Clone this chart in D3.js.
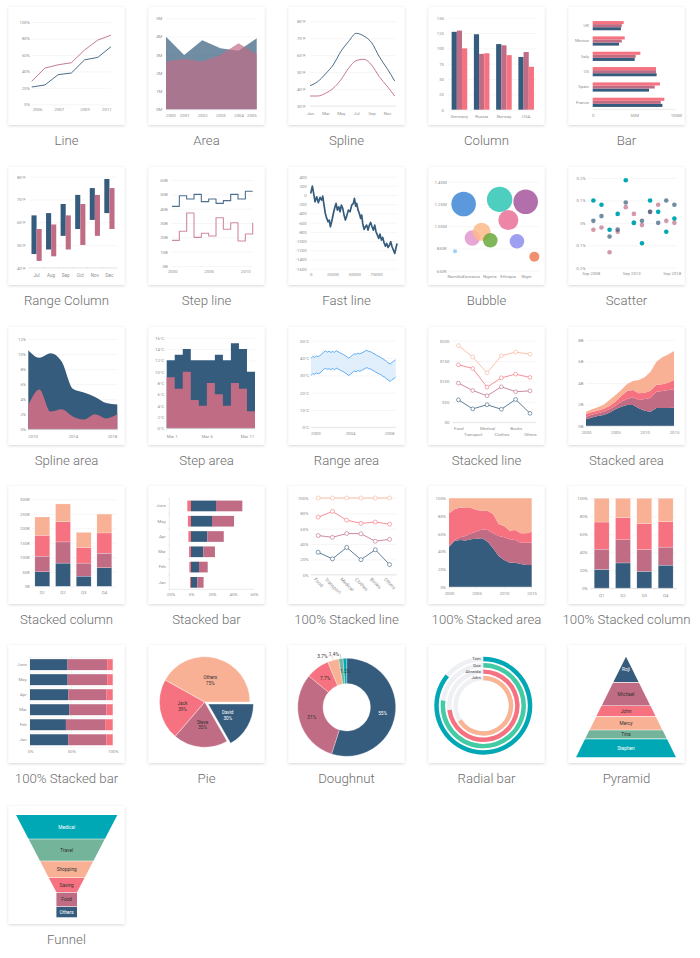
<!DOCTYPE html>
<html><head><meta charset="utf-8">
<script src="https://cdn.jsdelivr.net/npm/d3@7"></script>
<style>html,body{margin:0;padding:0;background:#fff;}svg{display:block;}</style>
</head><body>
<script>
// ================= DATA =================
const chartTitles = ['Line','Area','Spline','Column','Bar','Range Column','Step line','Fast line','Bubble','Scatter',
  'Spline area','Step area','Range area','Stacked line','Stacked area','Stacked column','Stacked bar','100% Stacked line',
  '100% Stacked area','100% Stacked column','100% Stacked bar','Pie','Doughnut','Radial bar','Pyramid','Funnel'];

// Line
const lineBlue = [21, 23.5, 36, 38, 54, 57, 70];
const linePink = [28, 44, 48, 50.5, 66, 78, 84];
const lineYTicks = [0, 20, 40, 60, 80, 100];
const lineXTickPos = [0.4, 2.05, 4, 5.65];
const lineXLabels = ['2006', '2007', '2009', '2011'];
// Area
const areaYears = [2000, 2001, 2002, 2003, 2004, 2005];
const areaBlue = [3.99, 2.98, 3.8, 3.35, 3.22, 3.9];
const areaPink = [2.62, 2.77, 2.62, 2.98, 3.63, 3.02];
const areaYTicks = [0, 1, 2, 3, 4, 5];
// Spline
const months = ['Jan','Feb','Mar','Apr','May','Jun','Jul','Aug','Sep','Oct','Nov','Dec'];
const splineBlue = [42, 44.4, 48.9, 54.2, 62.1, 68, 72.9, 71.3, 67.4, 59.1, 52.2, 44.8];
const splinePink = [35.9, 35.9, 37.5, 40.4, 45.4, 52.2, 56.8, 57.6, 54.2, 47.3, 41.8, 35.9];
const splineYTicks = [30, 40, 50, 60, 70, 80];
// Column
const colCountries = ['Germany', 'Russia', 'Norway', 'USA'];
const colBlue = [127, 123, 107, 86];
const colMauve = [129, 91, 105, 94];
const colPink = [100, 92, 89, 70];
const colYTicks = [0, 25, 50, 75, 100, 125, 150];
// Bar
const barCountries = ['UK', 'Mexico', 'Italy', 'US', 'Spain', 'France'];
const barBlue = [34, 31.7, 50.6, 77, 67.9, 84];
const barMauve = [35, 35, 51.8, 76.3, 74.7, 82];
const barPink = [37.3, 38.6, 57.4, 76.3, 81, 86.3];
const barXTicks = [0, 50, 100];
// Range column
const rcMonths = ['Jul', 'Aug', 'Sep', 'Oct', 'Nov', 'Dec'];
const rcBlueLow = [46, 48, 54, 57, 61, 64];
const rcBlueHigh = [63, 64, 68, 72, 75, 79];
const rcPinkLow = [43, 45, 48, 50, 54, 57];
const rcPinkHigh = [57, 59, 63, 68, 72, 75];
const rcYTicks = [40, 50, 60, 70, 80];
// Step line
const stepYears = [2000, 2001, 2002, 2003, 2004, 2005, 2006, 2007, 2008, 2009, 2010, 2011];
const stepBlue = [41.6, 49, 46.7, 50, 44.9, 46.7, 43.7, 45.6, 50, 46.7, 52.1, 52.1];
const stepPink = [17.9, 24.2, 37, 20, 22.8, 20.9, 33.7, 25.6, 30.2, 17.4, 22.3, 30.2];
const stepYTicks = [0, 10, 20, 30, 40, 50, 60];
const stepXTicks = [2000, 2005, 2010];
// Fast line
const fastX = [0,1900,3400,5000,6900,8800,10700,12600,13800,15300,16800,18400,19900,21400,22600,24100,26000,27900,29100,30600,32200,33700,35200,36800,38300,39800,41300,43300,45200,47100,49000,50200,51700,52800,54400,55900,57400,58600,59700,61300,62800,64300,65800,67400,68900,70400,72000,73500,75000,76600,78100,79600,81200,82700,84200,85800,87300,88800,90400,91900,93400,95000,96500,98000,99200];
const fastY = [36,196,36,-145,-36,-167,-50,-109,-22,-217,-400,-507,-580,-543,-688,-580,-400,-254,-181,-326,-254,-362,-217,-290,-435,-543,-457,-326,-362,-217,-181,-72,-239,-181,-326,-400,-507,-435,-616,-746,-688,-652,-761,-652,-594,-688,-761,-652,-797,-870,-942,-848,-978,-920,-1036,-1109,-1051,-1138,-1087,-1014,-1123,-1196,-1268,-1138,-1051];
const fastYTicks = [-1600, -1400, -1200, -1000, -800, -600, -400, -200, 0, 200, 400];
const fastXTicks = [0, 25000, 50000, 75000];
// Bubble
const bubbleCountries = ['Namibia', 'Tanzania', 'Nigeria', 'Ethiopia', 'Niger'];
const bubbleLabelPos = [7.4, 24.6, 45.2, 65.4, 85.7];
const bubbleX = [16.9, 56.6, 85.3, 66.2, 26.5, 36.8, 46.3, 75.7, 7.4, 94.9];
const bubbleY = [1.249, 1.291, 1.27, 1.105, 0.944, 1.0, 0.923, 0.914, 0.824, 0.776];
const bubbleSize = [151, 161, 151, 100, 59, 81, 53, 53, 4, 25];
const bubbleColors = ['#3f87d6', '#2ec5b3', '#a4569c', '#ea7098', '#e297cf', '#fdb98a', '#69a93c', '#8e8ef0', '#8fc4f6', '#ef7d55'];
const bubbleYTicks = [0.65, 0.85, 1.05, 1.25, 1.45];
const bubbleYLabels = ['650K', '850K', '1.05M', '1.25M', '1.45M'];
// Scatter
const scatterYears = [2009, 2010, 2011, 2012, 2013, 2014, 2015, 2016, 2017, 2018, 2019];
const scTeal = [0.1, 0.081, -0.031, 0.04, 0.19, 0, -0.091, 0.1, 0.049, -0.04, 0.019];
const scSlate = [0.009, 0.03, -0.061, -0.03, 0.091, 0, 0.009, 0.049, 0, 0.1, 0.081];
const scPinkS = [-0.031, -0.021, -0.131, -0.04, 0.07, 0.04, -0.01, 0.049, 0.081, 0.009, 0];
const scatYTicks = [-0.2, -0.1, 0, 0.1, 0.2];
const scatXTickPos = [2008.67, 2013.67, 2018.67];
const scatXLabels = ['Sep 2008', 'Sep 2013', 'Sep 2018'];
// Spline area
const saYears = [2010, 2011, 2012, 2013, 2014, 2015, 2016, 2017, 2018];
const saBlue = [10.5, 9.5, 10.1, 9.0, 5.4, 4.9, 4.3, 3.5, 3.3];
const saPink = [3.2, 5.3, 2.35, 2.65, 1.7, 1.3, 2.0, 1.45, 2.0];
const saYTicks = [0, 2, 4, 6, 8, 10, 12];
const saXTicks = [2010, 2014, 2018];
// Step area
const staDays = [1, 2, 3, 4, 5, 6, 7, 8, 9, 10, 11, 12];
const staBlue = [12, 13, 14, 12, 12, 12, 13, 12, 15, 14, 10, 10];
const staPink = [9, 7, 10, 5, 4, 8, 6, 4, 8, 7, 3, 3];
const staYTicks = [0, 2, 4, 6, 8, 10, 12, 14, 16];
const staXTicks = [1, 6, 11];
// Range area
const raHigh = [39.8,40.9,40.4,41.2,40.8,41.5,42.3,43.4,44.1,43.4,43.9,43.2,43.8,43.3,44.2,43.6,43.0,42.6,42.0,41.4,40.6,39.9,40.8,41.6,42.5,42.1,42.8,42.4,42.9,43.3,44.0,44.4,43.9,43.6,43.1,42.4,41.9,41.2,40.8,40.1,39.5,38.8,38.0,37.1,36.6,37.5,38.2,39.0];
const raLow = [29.9,31.0,30.6,31.3,30.9,31.4,32.4,33.5,34.0,33.5,33.8,33.3,33.9,33.2,34.1,33.7,33.1,32.5,32.1,31.3,30.7,29.8,30.9,31.5,32.6,32.0,32.9,32.3,32.8,33.4,33.9,34.5,33.8,33.7,33.0,32.5,31.8,31.3,30.7,30.2,29.4,28.9,27.9,27.2,26.5,27.6,28.1,29.1];
const raRange = [2000, 2008.68];
const raYTicks = [0, 10, 20, 30, 40, 50];
const raXTicks = [2000, 2004, 2008];
// Stacked line / 100% stacked line
const slCats = ['Food', 'Transport', 'Medical', 'Clothes', 'Books', 'Others'];
const slBlue = [55, 33, 43, 32, 56, 22];
const slMauve = [41, 45, 22, 55, 19, 55];
const slPink = [45, 54, 21, 22, 43, 33];
const slPeach = [47, 28, 35, 54, 54, 57];
const slYTicks = [0, 50, 100, 150, 200];
// Stacked area
const stYears = [2000,2001,2002,2003,2004,2005,2006,2007,2008,2009,2010,2011,2012,2013,2014,2015];
const stBlue = [0.62,0.8,0.93,1.02,1.24,1.55,1.8,1.95,1.95,1.64,1.43,1.33,1.67,1.67,1.67,1.7];
const stMauve = [0.25,0.25,0.25,0.31,0.31,0.31,0.46,0.56,0.72,0.78,1.08,1.27,1.52,1.59,1.68,1.71];
const stPink = [0.25,0.25,0.25,0.28,0.31,0.4,0.53,0.75,0.68,0.62,0.59,0.69,0.65,0.62,0.68,0.87];
const stPeach = [0.21,0.25,0.31,0.37,0.56,0.59,0.56,0.65,0.84,1.24,1.43,1.76,2.14,2.51,2.61,2.7];
const stYTicks = [0, 2, 4, 6, 8];
const stXTicks = [2000, 2005, 2010, 2015];
// Stacked column / 100% stacked column
const quarters = ['Q1', 'Q2', 'Q3', 'Q4'];
const scBlue = [50, 80, 35, 64];
const scMauve = [54, 73, 45, 50];
const scPink = [72, 70, 54, 70];
const scPeach = [63, 61, 52, 65];
const scYTicks = [0, 50, 100, 150, 200, 250, 300];
// Stacked bar / 100% stacked bar
const sbCats = ['Jan', 'Feb', 'Mar', 'Apr', 'May', 'June'];
const sbBlue = [6, 7.6, 11.7, 15.6, 20, 23.8];
const sbMauve = [6, 8.3, 11.1, 15.6, 21, 25.1];
const sbPink = [-1, -1.6, -1.9, -2.5, -2.9, -3.5];
const sbXTicks = [-20, 0, 20, 40, 60];
// 100% stacked area
const paBlue = [45.5,51.9,53,52.3,53.8,54.5,54.9,51.1,43.6,35,30.5,27.4,27.4,25.9,24.8,24.8];
const paMauve = [0.7,1.1,3,5.2,6.7,7.9,10.1,13.2,16.9,22.5,25.5,26.4,25.6,24.1,25.2,25.2];
const paPink = [36.9,34.6,33.5,31.6,28.6,24.4,21.1,21.4,21.8,13.5,12.8,9.7,11.3,10.5,10.5,12.2];
const paPeach = [16.9,12.4,10.5,10.9,10.9,13.2,13.9,14.3,17.7,29,31.2,36.5,35.7,39.5,39.5,37.6];
const pctTicks = [0, 0.2, 0.4, 0.6, 0.8, 1];
// Pie
const pieNames = ['David', 'Steve', 'Jack', 'Others'];
const pieVals = [30, 35, 39, 75];
// Doughnut
const dnVals = [55, 31, 7.7, 3.7, 1.4, 1.2];
const dnLabelOutside = [false, false, false, true, true, false];
const dnConnectorRun = [0, 0, 0, 4, 0.8, 0];
// Radial bar
const rbNames = ['Tom', 'Doe', 'Almeida', 'John'];
const rbVals = [86, 77, 73, 66];
// Pyramid
const pyNames = ['Roji', 'Michael', 'John', 'Mercy', 'Tina', 'Stephen'];
const pyVals = [25.5, 23.2, 10.9, 13.2, 8.9, 18.2];
// Funnel
const fnNames = ['Medical', 'Travel', 'Shopping', 'Saving', 'Food', 'Others'];
const fnVals = [23.5, 21.5, 16.3, 14.3, 14, 10.4];

// ================= STYLE =================
const FONT = 'Roboto, "Noto Sans", "DejaVu Sans", sans-serif';
const C = {blue:'#355C7D', mauve:'#C06C84', pink:'#F67280', peach:'#F8B195', green:'#74B49B', teal:'#00A8B5', mint:'#43CCA4'};
const AX_FS = 4.3, AX_COL = '#8f8f8f', GRID = '#ededed', AXLINE = '#d4d4d4';

const svg = d3.select('body').append('svg').attr('width', 700).attr('height', 958).attr('font-family', FONT);
const defs = svg.append('defs');
const flt = defs.append('filter').attr('id', 'sh').attr('x', '-10%').attr('y', '-10%').attr('width', '120%').attr('height', '120%');
flt.append('feDropShadow').attr('dx', 0).attr('dy', 0.8).attr('stdDeviation', 1.6).attr('flood-color', '#000').attr('flood-opacity', 0.17);

const colX = [8.5, 148.5, 288.5, 428.5, 568.5];
const rowY = [7, 167, 327, 486, 645, 806];
chartTitles.forEach((t, i) => {
  const cx = colX[i % 5], cy = rowY[Math.floor(i / 5)];
  svg.append('rect').attr('x', cx).attr('y', cy).attr('width', 116).attr('height', 118).attr('fill', '#fff').attr('filter', 'url(#sh)');
  svg.append('text').attr('x', cx + 58).attr('y', cy + 138).attr('text-anchor', 'middle')
    .attr('font-size', 13.2).attr('font-weight', 300).attr('fill', '#6e6e6e').text(t);
});

// ================= HELPERS =================
function styleAxis(g, gridCol) {
  g.attr('font-family', FONT).attr('font-size', AX_FS);
  g.select('.domain').remove();
  g.selectAll('.tick line').attr('stroke', gridCol || GRID).attr('stroke-width', 0.5);
  g.selectAll('.tick text').attr('fill', AX_COL);
}
function yGrid(y, ticks, fmt, x0, x1, pad) {
  const g = svg.append('g').attr('transform', `translate(${x0},0)`)
    .call(d3.axisLeft(y).tickValues(ticks).tickFormat(fmt).tickSize(-(x1 - x0)).tickPadding(pad));
  styleAxis(g); return g;
}
function yCats(y, x0, pad) {
  const g = svg.append('g').attr('transform', `translate(${x0},0)`)
    .call(d3.axisLeft(y).tickSize(0).tickPadding(pad));
  styleAxis(g); return g;
}
function edgeShift(g, x0, x1) {
  g.selectAll('.tick').each(function () {
    const tr = d3.select(this).attr('transform');
    const x = +tr.match(/translate\(([-\d.e]+)/)[1];
    const txt = d3.select(this).select('text');
    const w = txt.node().getComputedTextLength();
    if (x - w / 2 < x0) txt.attr('x', x0 - (x - w / 2));
    else if (x + w / 2 > x1) txt.attr('x', x1 - (x + w / 2));
  });
}
function xLabels(x, ticks, fmt, yPos, shift) {
  const ax = d3.axisBottom(x).tickSize(0).tickPadding(0);
  if (ticks) ax.tickValues(ticks);
  if (fmt) ax.tickFormat(fmt);
  const g = svg.append('g').attr('transform', `translate(0,${yPos})`).call(ax);
  styleAxis(g);
  g.selectAll('.tick text').attr('dy', '0.35em');
  if (shift) { const r = x.range(); edgeShift(g, Math.min(r[0], r[r.length - 1]), Math.max(r[0], r[r.length - 1])); }
  return g;
}
function hLine(x0, x1, y, col, w) {
  svg.append('line').attr('x1', x0).attr('x2', x1).attr('y1', y).attr('y2', y)
    .attr('stroke', col || AXLINE).attr('stroke-width', w || 0.5);
}
function vTicks(xs, y, len) {
  xs.forEach(x => svg.append('line').attr('x1', x).attr('x2', x).attr('y1', y).attr('y2', y + len)
    .attr('stroke', AXLINE).attr('stroke-width', 0.5));
}
function pathLine(d, col, w, op) {
  return svg.append('path').attr('d', d).attr('fill', 'none').attr('stroke', col)
    .attr('stroke-width', w || 1).attr('stroke-opacity', op == null ? 1 : op).attr('stroke-linejoin', 'round');
}
const pctFmt = d => Math.round(d * 100) + '%';

// ================= 1 LINE =================
{
  const x = d3.scaleLinear().domain([0, lineBlue.length - 1]).range([31.7, 111]);
  const y = d3.scaleLinear().domain([0, 100]).range([104.3, 22]);
  yGrid(y, lineYTicks, d => d + '%', 31.7, 111, 1.8);
  xLabels(x, lineXTickPos, (d, i) => lineXLabels[i], 109.8);
  const ln = d3.line().x((d, i) => x(i)).y(d => y(d));
  pathLine(ln(lineBlue), C.blue, 0.9);
  pathLine(ln(linePink), C.mauve, 0.9);
}
// ================= 2 AREA =================
{
  const x = d3.scaleLinear().domain([areaYears[0], areaYears[areaYears.length - 1]]).range([166, 256.7]);
  const y = d3.scaleLinear().domain([0, 5]).range([109.3, 18.3]);
  yGrid(y, areaYTicks, d => d + 'M', 166, 256.7, 3.7);
  xLabels(x, areaYears, d3.format('d'), 115.2, true);
  const ar = d3.area().x((d, i) => x(areaYears[i])).y0(y(0)).y1(d => y(d));
  svg.append('path').attr('d', ar(areaBlue)).attr('fill', C.blue).attr('fill-opacity', 0.7);
  svg.append('path').attr('d', ar(areaPink)).attr('fill', C.mauve).attr('fill-opacity', 0.7);
}
// ================= 3 SPLINE =================
{
  const x = d3.scaleLinear().domain([0, 11]).range([310, 394.7]);
  const y = d3.scaleLinear().domain([30, 80]).range([106, 21.3]);
  yGrid(y, splineYTicks, d => d + '°F', 310, 395.7, 4.3);
  hLine(310, 395.7, 106);
  xLabels(x, [0, 2, 4, 6, 8, 10], d => months[d], 113.7);
  const ln = d3.line().x((d, i) => x(i)).y(d => y(d)).curve(d3.curveMonotoneX);
  pathLine(ln(splineBlue), C.blue, 0.9);
  pathLine(ln(splinePink), C.mauve, 0.9);
}
// ================= 4 COLUMN =================
{
  const x0 = d3.scaleBand().domain(colCountries).range([448.3, 537.3]).paddingInner(0.3).paddingOuter(0.15);
  const x1 = d3.scaleBand().domain([0, 1, 2]).range([0, x0.bandwidth()]);
  const y = d3.scaleLinear().domain([0, 150]).range([109.7, 17.7]);
  yGrid(y, colYTicks, d => d, 448.3, 537.3, 4.3);
  [[colBlue, C.blue], [colMauve, C.mauve], [colPink, C.pink]].forEach(([vals, col], s) => {
    svg.append('g').selectAll('rect').data(vals).join('rect')
      .attr('x', (d, i) => x0(colCountries[i]) + x1(s)).attr('width', x1.bandwidth())
      .attr('y', d => y(d)).attr('height', d => y(0) - y(d)).attr('fill', col);
  });
  xLabels(x0, null, null, 116);
}
// ================= 5 BAR =================
{
  const x = d3.scaleLinear().domain([0, 100]).range([592.7, 675.7]);
  const y0 = d3.scaleBand().domain(barCountries).range([18, 110]).paddingInner(0.4).paddingOuter(0.2);
  const y1 = d3.scaleBand().domain([2, 1, 0]).range([0, y0.bandwidth()]);
  [[barBlue, C.blue], [barMauve, C.mauve], [barPink, C.pink]].forEach(([vals, col], s) => {
    svg.append('g').selectAll('rect').data(vals).join('rect')
      .attr('y', (d, i) => y0(barCountries[i]) + y1(s)).attr('height', y1.bandwidth())
      .attr('x', x(0)).attr('width', d => x(d) - x(0)).attr('fill', col);
  });
  hLine(592.7, 675.7, 109.3);
  yCats(y0, 592.7, 3.7);
  xLabels(x, barXTicks, d => d === 0 ? '0' : d + 'M', 115);
}
// ================= 6 RANGE COLUMN =================
{
  const x0 = d3.scaleBand().domain(rcMonths).range([29.3, 116.7]).paddingInner(0.3).paddingOuter(0.15);
  const x1 = d3.scaleBand().domain([0, 1]).range([0, x0.bandwidth()]);
  const y = d3.scaleLinear().domain([40, 80]).range([267.7, 176.7]);
  yGrid(y, rcYTicks, d => d + '°F', 29.3, 116.7, 3.6);
  [[rcBlueLow, rcBlueHigh, C.blue], [rcPinkLow, rcPinkHigh, C.mauve]].forEach(([lo, hi, col], s) => {
    svg.append('g').selectAll('rect').data(lo).join('rect')
      .attr('x', (d, i) => x0(rcMonths[i]) + x1(s)).attr('width', x1.bandwidth())
      .attr('y', (d, i) => y(hi[i])).attr('height', (d, i) => y(d) - y(hi[i])).attr('fill', col);
  });
  hLine(29.3, 116.7, 267.7);
  vTicks(d3.range(rcMonths.length + 1).map(i => 29.3 + i * x0.step()), 267.7, 1.5);
  xLabels(x0, null, null, 275).attr('font-size', 4.6);
}
// ================= 7 STEP LINE =================
{
  const x = d3.scaleLinear().domain([2000, 2011]).range([172, 252.7]);
  const y = d3.scaleLinear().domain([0, 60]).range([266, 180]);
  yGrid(y, stepYTicks, d => d + 'B', 172, 252.7, 4.3);
  xLabels(x, stepXTicks, d3.format('d'), 271);
  const ln = d3.line().x((d, i) => x(stepYears[i])).y(d => y(d)).curve(d3.curveStepAfter);
  pathLine(ln(stepBlue), '#4d6f8e', 1.1);
  pathLine(ln(stepPink), '#cf8a9e', 1.1);
}
// ================= 8 FAST LINE =================
{
  const x = d3.scaleLinear().domain([0, 100000]).range([310.7, 397.8]);
  const y = d3.scaleLinear().domain([-1600, 400]).range([268.7, 176.7]);
  yGrid(y, fastYTicks, d => String(d), 310.7, 397.8, 4);
  xLabels(x, fastXTicks, d3.format('d'), 274.3);
  const ln = d3.line().x((d, i) => x(fastX[i])).y(d => y(d));
  pathLine(ln(fastY), C.blue, 1.7);
}
// ================= 9 BUBBLE =================
{
  const x = d3.scaleLinear().domain([0, 100]).range([448.3, 539]);
  const y = d3.scaleLinear().domain([0.65, 1.45]).range([270.7, 181.7]);
  const r = d3.scaleSqrt().domain([0, 161]).range([0, 12.7]);
  yGrid(y, bubbleYTicks, (d, i) => bubbleYLabels[i], 448.3, 539, 1.6);
  xLabels(x, bubbleLabelPos, (d, i) => bubbleCountries[i], 276.7);
  svg.append('g').selectAll('circle').data(bubbleX).join('circle')
    .attr('cx', d => x(d)).attr('cy', (d, i) => y(bubbleY[i])).attr('r', (d, i) => r(bubbleSize[i]))
    .attr('fill', (d, i) => bubbleColors[i]).attr('fill-opacity', 0.85);
}
// ================= 10 SCATTER =================
{
  const x = d3.scaleLinear().domain([2008.3, 2019.2]).range([587.7, 676]);
  const y = d3.scaleLinear().domain([-0.2, 0.2]).range([267.7, 178]);
  yGrid(y, scatYTicks, d => (d < 0 ? '-' : '') + (d === 0 ? '0' : Math.abs(d).toFixed(1)) + '%', 587.7, 676, 2);
  xLabels(x, scatXTickPos, (d, i) => scatXLabels[i], 273.3);
  [[scPinkS, C.mauve, 0.7], [scSlate, C.blue, 0.7], [scTeal, C.teal, 1]].forEach(([vals, col, op]) => {
    svg.append('g').selectAll('circle').data(vals).join('circle')
      .attr('cx', (d, i) => x(scatterYears[i])).attr('cy', d => y(d)).attr('r', 2.3)
      .attr('fill', col).attr('fill-opacity', op);
  });
}
// ================= 11 SPLINE AREA =================
{
  const x = d3.scaleLinear().domain([2010, 2018]).range([28.3, 117.3]);
  const y = d3.scaleLinear().domain([0, 12]).range([429.3, 339]);
  yGrid(y, saYTicks, d => d + '%', 28.3, 117.3, 2.3);
  const ar = d3.area().x((d, i) => x(saYears[i])).y0(y(0)).y1(d => y(d)).curve(d3.curveMonotoneX);
  svg.append('path').attr('d', ar(saBlue)).attr('fill', C.blue);
  svg.append('path').attr('d', ar(saPink)).attr('fill', C.mauve);
  hLine(28.3, 117.3, 429.3);
  vTicks(saXTicks.map(x), 429.3, 1.5);
  xLabels(x, saXTicks, d3.format('d'), 436.7, true);
}
// ================= 12 STEP AREA =================
{
  const x = d3.scaleLinear().domain([1, 12]).range([166.7, 255]);
  const y = d3.scaleLinear().domain([0, 16]).range([428.3, 337.7]);
  yGrid(y, staYTicks, d => d + '°C', 166.7, 255, 2.4);
  const ar = d3.area().x((d, i) => x(staDays[i])).y0(y(0)).y1(d => y(d)).curve(d3.curveStepAfter);
  svg.append('path').attr('d', ar(staBlue)).attr('fill', C.blue);
  svg.append('path').attr('d', ar(staPink)).attr('fill', C.mauve);
  hLine(166.7, 255, 428.3);
  vTicks(staXTicks.map(x), 428.3, 1.5);
  xLabels(x, staXTicks, d => 'Mar ' + d, 436, true);
}
// ================= 13 RANGE AREA =================
{
  const x = d3.scaleLinear().domain(raRange).range([311, 395.7]);
  const idx = d3.scaleLinear().domain([0, raHigh.length - 1]).range(raRange);
  const y = d3.scaleLinear().domain([0, 50]).range([427.3, 340.7]);
  yGrid(y, raYTicks, d => d + '°C', 311, 395.7, 1.7);
  hLine(311, 395.7, 427.3);
  const ar = d3.area().x((d, i) => x(idx(i))).y0((d, i) => y(raLow[i])).y1(d => y(d));
  svg.append('path').attr('d', ar(raHigh)).attr('fill', '#dcecfb').attr('fill-opacity', 0.85);
  const ln = d3.line().x((d, i) => x(idx(i))).y(d => y(d));
  pathLine(ln(raHigh), '#3d9bef', 0.8);
  pathLine(ln(raLow), '#3d9bef', 0.8);
  xLabels(x, raXTicks, d3.format('d'), 433.3, true);
}
// ================= 14 STACKED LINE =================
{
  const x = d3.scalePoint().domain(slCats).range([452.7, 535.7]).padding(0.4);
  const y = d3.scaleLinear().domain([0, 200]).range([422.3, 340.7]);
  yGrid(y, slYTicks, d => '$' + d, 452.7, 535.7, 3.4);
  hLine(452.7, 535.7, 422.3);
  const rows = slCats.map((c, i) => ({blue: slBlue[i], mauve: slMauve[i], pink: slPink[i], peach: slPeach[i]}));
  const series = d3.stack().keys(['blue', 'mauve', 'pink', 'peach'])(rows);
  const cols = [C.blue, C.mauve, C.pink, C.peach];
  const ln = d3.line().x((d, i) => x(slCats[i])).y(d => y(d[1]));
  series.forEach((s, k) => {
    pathLine(ln(s), cols[k], 0.8);
    svg.append('g').selectAll('circle').data(s).join('circle')
      .attr('cx', (d, i) => x(slCats[i])).attr('cy', d => y(d[1])).attr('r', 1.9)
      .attr('fill', '#fff').attr('stroke', cols[k]).attr('stroke-width', 0.6);
  });
  const g = xLabels(x, null, null, 428.3);
  g.selectAll('.tick text').attr('y', (d, i) => i % 2 ? 6 : 0);
}
// ================= 15 STACKED AREA =================
{
  const x = d3.scaleLinear().domain([2000, 2015]).range([586, 674]);
  const y = d3.scaleLinear().domain([0, 8]).range([426, 340]);
  yGrid(y, stYTicks, d => d + 'B', 586, 674, 2.7);
  const rows = stYears.map((yr, i) => ({blue: stBlue[i], mauve: stMauve[i], pink: stPink[i], peach: stPeach[i]}));
  const series = d3.stack().keys(['blue', 'mauve', 'pink', 'peach'])(rows);
  const cols = [C.blue, C.mauve, C.pink, C.peach];
  const ar = d3.area().x((d, i) => x(stYears[i])).y0(d => y(d[0])).y1(d => y(d[1]));
  series.forEach((s, k) => svg.append('path').attr('d', ar(s)).attr('fill', cols[k]));
  hLine(586, 674, 426);
  xLabels(x, stXTicks, d3.format('d'), 432);
}
// ================= 16 STACKED COLUMN =================
{
  const x = d3.scaleBand().domain(quarters).range([32, 114.7]).paddingInner(0.28).paddingOuter(0.14);
  const y = d3.scaleLinear().domain([0, 300]).range([586.3, 499.3]);
  yGrid(y, scYTicks, d => d + 'K', 31.7, 117.3, 1.7);
  const rows = quarters.map((q, i) => ({blue: scBlue[i], mauve: scMauve[i], pink: scPink[i], peach: scPeach[i]}));
  const series = d3.stack().keys(['blue', 'mauve', 'pink', 'peach'])(rows);
  const cols = [C.blue, C.mauve, C.pink, C.peach];
  series.forEach((s, k) => svg.append('g').selectAll('rect').data(s).join('rect')
    .attr('x', (d, i) => x(quarters[i])).attr('width', x.bandwidth())
    .attr('y', d => y(d[1])).attr('height', d => y(d[0]) - y(d[1]))
    .attr('fill', cols[k]).attr('stroke', '#fff').attr('stroke-width', 0.35).attr('stroke-opacity', 0.6));
  xLabels(x, null, null, 592.7);
}
// ================= 17 STACKED BAR =================
{
  const x = d3.scaleLinear().domain([-20, 60]).range([170, 254]);
  const y = d3.scaleBand().domain(sbCats.slice().reverse()).range([498.3, 590]).paddingInner(0.3).paddingOuter(0.15);
  const rows = sbCats.map((c, i) => ({blue: sbBlue[i], mauve: sbMauve[i], pink: sbPink[i]}));
  const series = d3.stack().keys(['blue', 'mauve', 'pink']).offset(d3.stackOffsetDiverging)(rows);
  const cols = [C.blue, C.mauve, C.pink];
  series.forEach((s, k) => svg.append('g').selectAll('rect').data(s).join('rect')
    .attr('y', (d, i) => y(sbCats[i])).attr('height', y.bandwidth())
    .attr('x', d => x(Math.min(d[0], d[1]))).attr('width', d => Math.abs(x(d[1]) - x(d[0])))
    .attr('fill', cols[k]));
  hLine(169.3, 254, 589.3);
  svg.append('line').attr('x1', 169.3).attr('x2', 169.3).attr('y1', 498.3).attr('y2', 589.3).attr('stroke', AXLINE).attr('stroke-width', 0.5);
  d3.range(sbCats.length + 1).forEach(i => {
    const yy = 498.3 + i * y.step();
    svg.append('line').attr('x1', 167.8).attr('x2', 169.3).attr('y1', yy).attr('y2', yy).attr('stroke', AXLINE).attr('stroke-width', 0.5);
  });
  yCats(y, 169.3, 3.6);
  xLabels(x, sbXTicks, d => d + '%', 594);
}
// ================= 18 100% STACKED LINE =================
{
  const x = d3.scalePoint().domain(slCats).range([311, 396.7]).padding(0.5);
  const y = d3.scaleLinear().domain([0, 1]).range([574.7, 498]);
  yGrid(y, pctTicks, pctFmt, 311, 396.7, 2.7);
  hLine(311, 396.7, 574.7);
  const rows = slCats.map((c, i) => ({blue: slBlue[i], mauve: slMauve[i], pink: slPink[i], peach: slPeach[i]}));
  const series = d3.stack().keys(['blue', 'mauve', 'pink', 'peach']).offset(d3.stackOffsetExpand)(rows);
  const cols = [C.blue, C.mauve, C.pink, C.peach];
  const ln = d3.line().x((d, i) => x(slCats[i])).y(d => y(d[1]));
  series.forEach((s, k) => {
    pathLine(ln(s), cols[k], 0.8);
    svg.append('g').selectAll('circle').data(s).join('circle')
      .attr('cx', (d, i) => x(slCats[i])).attr('cy', d => y(d[1])).attr('r', 2)
      .attr('fill', '#fff').attr('stroke', cols[k]).attr('stroke-width', 0.6);
  });
  const g = xLabels(x, null, null, 574.7);
  g.selectAll('.tick text').attr('font-size', 4.8).each(function () {
    const w = this.getComputedTextLength();
    d3.select(this).attr('text-anchor', 'middle')
      .attr('transform', `translate(0,${3.8 + w / 2 * 0.707}) rotate(45)`);
  });
}
// ================= 19 100% STACKED AREA =================
{
  const x = d3.scaleLinear().domain([2000, 2015]).range([449, 531.7]);
  const y = d3.scaleLinear().domain([0, 1]).range([587, 498.3]);
  yGrid(y, pctTicks, pctFmt, 449, 531.7, 3);
  const rows = stYears.map((yr, i) => ({blue: paBlue[i], mauve: paMauve[i], pink: paPink[i], peach: paPeach[i]}));
  const series = d3.stack().keys(['blue', 'mauve', 'pink', 'peach']).offset(d3.stackOffsetExpand)(rows);
  const cols = [C.blue, C.mauve, C.pink, C.peach];
  const ar = d3.area().x((d, i) => x(stYears[i])).y0(d => y(d[0])).y1(d => y(d[1]));
  series.forEach((s, k) => svg.append('path').attr('d', ar(s)).attr('fill', cols[k]));
  hLine(449, 531.7, 587);
  vTicks(stXTicks.map(x), 587, 1.5);
  xLabels(x, stXTicks, d3.format('d'), 593.3);
}
// ================= 20 100% STACKED COLUMN =================
{
  const x = d3.scaleBand().domain(quarters).range([591, 676.3]).paddingInner(0.3).paddingOuter(0.15);
  const y = d3.scaleLinear().domain([0, 1]).range([588.3, 498.3]);
  yGrid(y, pctTicks, pctFmt, 591, 676.3, 3.3);
  const rows = quarters.map((q, i) => ({blue: scBlue[i], mauve: scMauve[i], pink: scPink[i], peach: scPeach[i]}));
  const series = d3.stack().keys(['blue', 'mauve', 'pink', 'peach']).offset(d3.stackOffsetExpand)(rows);
  const cols = [C.blue, C.mauve, C.pink, C.peach];
  series.forEach((s, k) => svg.append('g').selectAll('rect').data(s).join('rect')
    .attr('x', (d, i) => x(quarters[i])).attr('width', x.bandwidth())
    .attr('y', d => y(d[1])).attr('height', d => y(d[0]) - y(d[1]))
    .attr('fill', cols[k]).attr('stroke', '#fff').attr('stroke-width', 0.35).attr('stroke-opacity', 0.6));
  hLine(591, 676.3, 588.3);
  vTicks(d3.range(quarters.length + 1).map(i => 591 + i * x.step()), 588.3, 1.5);
  xLabels(x, null, null, 595);
}
// ================= 21 100% STACKED BAR =================
{
  const x = d3.scaleLinear().domain([0, 1]).range([30, 112.7]);
  const y = d3.scaleBand().domain(sbCats.slice().reverse()).range([657.2, 747.2]).paddingInner(0.27).paddingOuter(0.13);
  [0, 0.5, 1].forEach(v => svg.append('line').attr('x1', x(v)).attr('x2', x(v)).attr('y1', 656.5).attr('y2', 747.2)
    .attr('stroke', GRID).attr('stroke-width', 0.6));
  d3.range(sbCats.length + 1).forEach(i => hLine(30, 112.7, 657.2 + i * y.step(), GRID, 0.5));
  const rows = sbCats.map((c, i) => ({blue: Math.abs(sbBlue[i]), mauve: Math.abs(sbMauve[i]), pink: Math.abs(sbPink[i])}));
  const series = d3.stack().keys(['blue', 'mauve', 'pink']).offset(d3.stackOffsetExpand)(rows);
  const cols = [C.blue, C.mauve, C.pink];
  series.forEach((s, k) => svg.append('g').selectAll('rect').data(s).join('rect')
    .attr('y', (d, i) => y(sbCats[i])).attr('height', y.bandwidth())
    .attr('x', d => x(d[0])).attr('width', d => x(d[1]) - x(d[0])).attr('fill', cols[k]));
  yCats(y, 30, 3.3);
  xLabels(x, [0, 0.5, 1], pctFmt, 751);
}
// ================= 22 PIE =================
{
  const cx = 204.7, cy = 702, R = 45.3;
  const pie = d3.pie().sort(null).startAngle(Math.PI / 2).endAngle(Math.PI / 2 + 2 * Math.PI);
  const arcs = pie(pieVals);
  const arc = d3.arc().innerRadius(0).outerRadius(R);
  const cols = [C.blue, C.mauve, C.pink, C.peach];
  const g = svg.append('g').attr('transform', `translate(${cx},${cy})`);
  arcs.forEach((a, i) => {
    const mid = (a.startAngle + a.endAngle) / 2;
    const off = i === 0 ? 4 : 0;
    const dx = Math.sin(mid) * off, dy = -Math.cos(mid) * off;
    const sg = g.append('g').attr('transform', `translate(${dx},${dy})`);
    sg.append('path').attr('d', arc(a)).attr('fill', cols[i]).attr('stroke', '#fff').attr('stroke-width', 0.4);
    const [lx, ly] = arc.centroid(a);
    const tcol = i === 0 ? '#fff' : '#333';
    sg.append('text').attr('x', lx).attr('y', ly - 2.6).attr('text-anchor', 'middle').attr('dy', '0.35em')
      .attr('font-size', 4.6).attr('fill', tcol).text(pieNames[i]);
    sg.append('text').attr('x', lx).attr('y', ly + 3.1).attr('text-anchor', 'middle').attr('dy', '0.35em')
      .attr('font-size', 4.6).attr('fill', tcol).text(pieVals[i] + '%');
  });
}
// ================= 23 DOUGHNUT =================
{
  const cx = 346.7, cy = 707.3, R = 49, r0 = 23.7;
  const arcs = d3.pie().sort(null)(dnVals);
  const arc = d3.arc().innerRadius(r0).outerRadius(R);
  const cols = [C.blue, C.mauve, C.pink, C.peach, C.green, C.teal];
  const g = svg.append('g').attr('transform', `translate(${cx},${cy})`);
  arcs.forEach((a, i) => g.append('path').attr('d', arc(a)).attr('fill', cols[i]).attr('stroke', '#fff').attr('stroke-width', 0.3));
  arcs.forEach((a, i) => {
    const mid = (a.startAngle + a.endAngle) / 2;
    if (dnLabelOutside[i]) {
      const p0 = [Math.sin(mid) * R, -Math.cos(mid) * R];
      const p1 = [Math.sin(mid) * (R + 4.5), -Math.cos(mid) * (R + 4.5)];
      const p2 = [p1[0] - dnConnectorRun[i], p1[1]];
      g.append('path').attr('d', d3.line()([p0, p1, p2])).attr('fill', 'none').attr('stroke', cols[i]).attr('stroke-width', 0.5);
      g.append('text').attr('x', p2[0] - 0.5).attr('y', p2[1]).attr('dy', '0.35em').attr('text-anchor', 'end')
        .attr('font-size', 4.8).attr('fill', '#333').text(dnVals[i] + '%');
    } else {
      const [lx, ly] = arc.centroid(a);
      g.append('text').attr('x', lx).attr('y', ly).attr('dy', '0.35em').attr('text-anchor', 'middle')
        .attr('font-size', 4.8).attr('fill', i === 0 ? '#fff' : '#333').text(dnVals[i] + '%');
    }
  });
}
// ================= 24 RADIAL BAR =================
{
  const cx = 483.3, cy = 705.7;
  const rad = d3.scaleBand().domain(rbNames.slice().reverse()).range([25.5, 49]).paddingInner(0.3);
  const ang = d3.scaleLinear().domain([0, 100]).range([0, 2 * Math.PI]);
  const cols = [C.teal, C.mint, C.pink, '#F9B494'];
  const g = svg.append('g').attr('transform', `translate(${cx},${cy})`);
  rbNames.forEach((n, i) => {
    const arc = d3.arc().innerRadius(rad(n)).outerRadius(rad(n) + rad.bandwidth());
    g.append('path').attr('d', arc({startAngle: 0, endAngle: 2 * Math.PI})).attr('fill', '#eef0f4');
    g.append('path').attr('d', arc({startAngle: 0, endAngle: ang(rbVals[i])})).attr('fill', cols[i]);
    g.append('text').attr('x', -2.6).attr('y', -(rad(n) + rad.bandwidth() / 2)).attr('dy', '0.35em')
      .attr('text-anchor', 'end').attr('font-size', 4.2).attr('fill', '#444').text(n);
  });
}
// ================= 25 PYRAMID =================
{
  const ax = 626, top = 656.7, bottom = 757.3, baseHW = 50;
  const yS = d3.scaleLinear().domain([0, d3.sum(pyVals)]).range([top, bottom]);
  const hw = yy => baseHW * (yy - top) / (bottom - top);
  const cols = [C.blue, C.mauve, C.pink, C.peach, C.green, C.teal];
  const tcols = ['#fff', '#333', '#333', '#333', '#333', '#fff'];
  let acc = 0;
  pyVals.forEach((v, i) => {
    const y0 = yS(acc) + (i ? 0.35 : 0), y1 = yS(acc + v) - (i < pyVals.length - 1 ? 0.35 : 0);
    acc += v;
    const pts = [[ax - hw(y0), y0], [ax + hw(y0), y0], [ax + hw(y1), y1], [ax - hw(y1), y1]];
    svg.append('path').attr('d', d3.line()(pts) + 'Z').attr('fill', cols[i]);
    svg.append('text').attr('x', ax).attr('y', (y0 + y1) / 2).attr('dy', '0.35em').attr('text-anchor', 'middle')
      .attr('font-size', 4.8).attr('fill', tcols[i]).text(pyNames[i]);
  });
}
// ================= 26 FUNNEL =================
{
  const cx = 66.7, top = 815, neckY = 892.3, bottom = 917.3, topHW = 50.65, neckHW = 10.3;
  const yS = d3.scaleLinear().domain([0, d3.sum(fnVals)]).range([top, bottom]);
  const hw = yy => yy <= neckY ? topHW - (topHW - neckHW) * (yy - top) / (neckY - top) : neckHW;
  const cols = [C.teal, C.green, C.peach, C.pink, C.mauve, C.blue];
  const tcols = ['#fff', '#333', '#333', '#333', '#333', '#fff'];
  let acc = 0;
  fnVals.forEach((v, i) => {
    const y0 = yS(acc) + (i ? 0.3 : 0), y1 = yS(acc + v) - (i < fnVals.length - 1 ? 0.3 : 0);
    acc += v;
    const spans = y0 < neckY && y1 > neckY;
    const pts = [[cx - hw(y0), y0], [cx + hw(y0), y0]];
    if (spans) pts.push([cx + neckHW, neckY]);
    pts.push([cx + hw(y1), y1], [cx - hw(y1), y1]);
    if (spans) pts.push([cx - neckHW, neckY]);
    svg.append('path').attr('d', d3.line()(pts) + 'Z').attr('fill', cols[i]);
    svg.append('text').attr('x', cx).attr('y', (y0 + y1) / 2).attr('dy', '0.35em').attr('text-anchor', 'middle')
      .attr('font-size', 4.8).attr('fill', tcols[i]).text(fnNames[i]);
  });
}
</script>
</body></html>
